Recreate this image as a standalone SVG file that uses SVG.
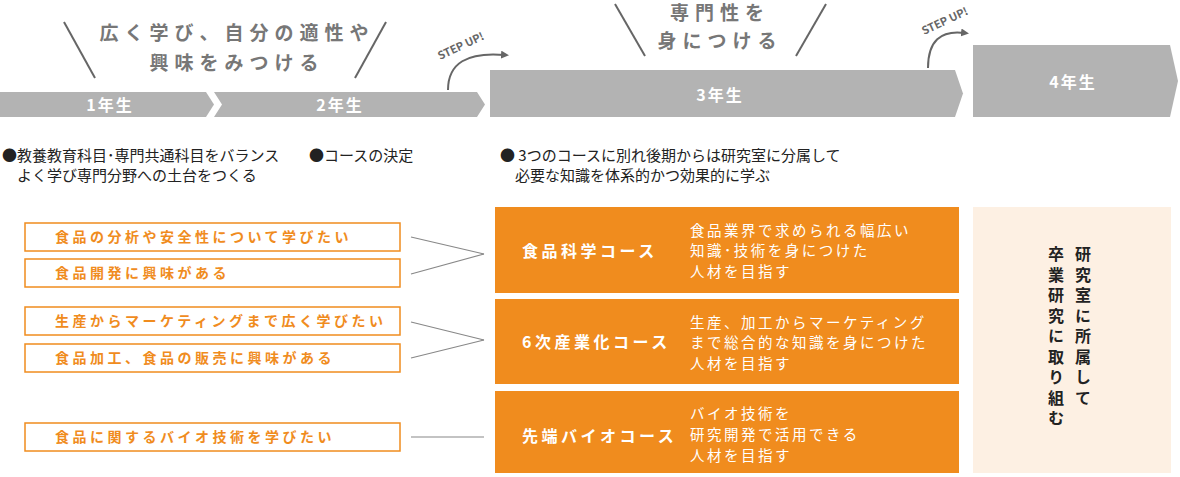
<svg xmlns="http://www.w3.org/2000/svg" width="1180" height="477" viewBox="0 0 1180 477">
<style>
text{font-family:"Noto Sans CJK JP","Noto Sans",sans-serif}
.hd{font-size:19px;font-weight:bold;fill:#777;letter-spacing:6px;text-anchor:middle}
.yr{font-size:16px;font-weight:bold;fill:#fff;letter-spacing:2px;text-anchor:middle}
.sl{stroke:#666;stroke-width:2;fill:none}
.bl{font-size:15px;fill:#222}
.ib rect{fill:#fff;stroke:#F08C1E;stroke-width:1.5}
.ib text{font-size:14px;font-weight:bold;fill:#F08C1E;letter-spacing:3.5px}
.cs rect{fill:#F08C1E}
.ct{font-size:16px;font-weight:bold;fill:#fff;letter-spacing:3.5px}
.cd{font-size:14.5px;fill:#fff;letter-spacing:2.5px}
.cn line{stroke:#888;stroke-width:1.2}
.su{font-size:11px;font-weight:bold;fill:#666}
.vt{font-size:16px;font-weight:bold;fill:#222;writing-mode:vertical-rl;letter-spacing:4.5px}
</style>
<defs><marker id="ah" viewBox="0 0 10 10" refX="5" refY="5" markerWidth="4" markerHeight="4" orient="auto"><path d="M0,0L10,5L0,10z" fill="#666"/></marker></defs>
<g id="head1">
<line class="sl" x1="64" y1="22" x2="95" y2="78"/><line class="sl" x1="386" y1="22" x2="355" y2="78"/>
<text class="hd" x="237" y="40">広く学び、自分の適性や</text>
<text class="hd" x="237" y="70">興味をみつける</text>
</g>
<g id="bar12">
<path d="M0,92H206L214,104.5L206,117H0z" fill="#b3b3b3"/>
<path d="M214,92H477L485,104.5L477,117H214L222,104.5z" fill="#b3b3b3"/>
<text class="yr" x="110" y="111">1年生</text>
<text class="yr" x="340" y="111">2年生</text>
</g>
<g id="step1">
<path d="M448,90Q448,50 505,55" class="sl" stroke-width="3" marker-end="url(#ah)"/>
<text class="su" transform="translate(440,60) rotate(-25)">STEP UP!</text>
</g>
<g id="head2">
<line class="sl" x1="615" y1="4" x2="645" y2="56"/><line class="sl" x1="826" y1="4" x2="796" y2="56"/>
<text class="hd" x="720" y="20">専門性を</text>
<text class="hd" x="720" y="48">身につける</text>
</g>
<g id="bar3">
<path d="M490,70H955L963,93.5L955,117H490z" fill="#b3b3b3"/>
<text class="yr" x="720" y="101">3年生</text>
</g>
<g id="step2">
<path d="M928,68Q928,28 965,33" class="sl" stroke-width="3" marker-end="url(#ah)"/>
<text class="su" transform="translate(924,35) rotate(-25)">STEP UP!</text>
</g>
<g id="bar4">
<path d="M973,45H1170L1178,81L1170,117H973z" fill="#b3b3b3"/>
<text class="yr" x="1073" y="88">4年生</text>
</g>
<g id="bullets">
<text class="bl" x="2" y="161">●教養教育科目･専門共通科目をバランス</text>
<text class="bl" x="17" y="181">よく学び専門分野への土台をつくる</text>
<text class="bl" x="309" y="161">●コースの決定</text>
<text class="bl" x="500" y="161">● 3つのコースに別れ後期からは研究室に分属して</text>
<text class="bl" x="515" y="181">必要な知識を体系的かつ効果的に学ぶ</text>
</g>
<g id="i1" class="ib"><rect x="25" y="223" width="375" height="28"/><text x="55" y="242">食品の分析や安全性について学びたい</text></g>
<g id="i2" class="ib"><rect x="25" y="259" width="375" height="28"/><text x="55" y="278">食品開発に興味がある</text></g>
<g id="i3" class="ib"><rect x="25" y="307" width="375" height="28"/><text x="55" y="326">生産からマーケティングまで広く学びたい</text></g>
<g id="i4" class="ib"><rect x="25" y="344" width="375" height="28"/><text x="55" y="363">食品加工、食品の販売に興味がある</text></g>
<g id="i5" class="ib"><rect x="25" y="423" width="375" height="28"/><text x="55" y="442">食品に関するバイオ技術を学びたい</text></g>
<g id="connectors" class="cn">
<line x1="411" y1="237" x2="484" y2="254"/><line x1="411" y1="274" x2="484" y2="254"/>
<line x1="411" y1="322" x2="484" y2="340"/><line x1="411" y1="358" x2="484" y2="340"/>
<line x1="411" y1="437" x2="484" y2="437"/>
</g>
<g id="c1" class="cs"><rect x="495" y="207" width="464" height="86"/>
<text class="ct" x="522" y="257">食品科学コース</text>
<text class="cd" x="690" y="236">食品業界で求められる幅広い</text><text class="cd" x="690" y="256">知識･技術を身につけた</text><text class="cd" x="690" y="277">人材を目指す</text></g>
<g id="c2" class="cs"><rect x="495" y="299" width="464" height="85"/>
<text class="ct" x="522" y="348">6次産業化コース</text>
<text class="cd" x="690" y="328">生産、加工からマーケティング</text><text class="cd" x="690" y="348">まで総合的な知識を身につけた</text><text class="cd" x="690" y="369">人材を目指す</text></g>
<g id="c3" class="cs"><rect x="495" y="391" width="464" height="82"/>
<text class="ct" x="522" y="442">先端バイオコース</text>
<text class="cd" x="690" y="419">バイオ技術を</text><text class="cd" x="690" y="440">研究開発で活用できる</text><text class="cd" x="690" y="461">人材を目指す</text></g>
<g id="r4"><rect x="973" y="207" width="198" height="266" fill="#FDF0E3"/>
<text class="vt" x="1083" y="246">研究室に所属して</text>
<text class="vt" x="1056" y="246">卒業研究に取り組む</text></g>
</svg>
